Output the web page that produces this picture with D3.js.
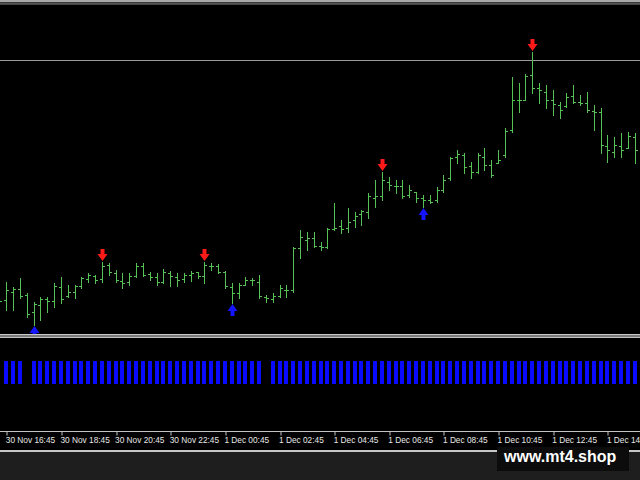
<!DOCTYPE html>
<html>
<head>
<meta charset="utf-8">
<script src="https://cdn.jsdelivr.net/npm/d3@7"></script>
<style>
html,body{margin:0;padding:0;background:#1e1e1e;}
svg{display:block;}
</style>
</head>
<body>
<svg id="chart" width="640" height="480"></svg>
<script>
// ---- data (M15 bars, price in points) ----
const barIndex = d3.range(-1, 93);
const opens  = [36,34,42,45,39,22,29,35,33,47,38,42,48,55,58,55,69,61,53,52,58,68,60,57,52,61,57,55,59,62,58,68,68,62,47,41,49,54,52,37,35,38,44,44,86,94,96,88,87,105,108,106,114,120,122,136,138,152,148,148,139,142,136,134,134,144,156,177,179,168,162,177,169,171,179,204,234,234,259,246,242,234,229,228,238,232,231,223,222,188,182,188,186,197];
const highs  = [44,52,47,56,41,32,37,37,51,57,49,49,57,61,59,72,71,64,61,61,71,71,62,61,65,63,61,61,63,62,72,71,70,63,51,51,57,56,59,39,41,49,49,87,104,102,102,92,106,131,114,126,122,124,141,154,162,157,154,154,149,142,139,139,147,159,177,184,181,172,181,186,174,184,206,257,251,260,282,251,249,244,232,241,249,239,242,229,226,199,197,201,202,201];
const lows   = [28,24,24,36,17,9,14,22,27,31,37,36,46,52,51,52,59,52,46,49,57,58,54,49,51,48,48,52,53,56,51,64,61,46,31,36,49,49,36,32,32,37,37,42,76,84,87,84,86,104,101,102,107,109,116,127,134,144,141,136,137,132,127,131,132,142,154,171,161,156,161,164,157,171,177,202,222,234,241,231,226,219,216,227,231,229,222,204,181,172,177,177,186,171];
const closes = [33,44,45,38,20,30,35,33,48,35,42,48,56,59,54,68,62,54,51,58,68,59,57,52,62,58,54,59,61,58,69,68,62,48,41,49,54,54,38,36,38,46,44,86,97,96,88,87,105,106,105,112,118,123,138,138,154,149,148,138,144,136,134,132,144,154,176,180,167,162,179,169,159,174,203,234,234,258,246,244,234,230,224,237,232,231,224,222,189,184,189,184,198,184];
// indicator signal (1 = active)
const signal = [0,1,1,1,0,1,1,1,1,1,1,1,1,1,1,1,1,1,1,1,1,1,1,1,1,1,1,1,1,1,1,1,1,1,1,1,1,1,1,0,1,1,1,1,1,1,1,1,1,1,1,1,1,1,1,1,1,1,1,1,1,1,1,1,1,1,1,1,1,1,1,1,1,1,1,1,1,1,1,1,1,1,1,1,1,1,1,1,1,1,1,1,1,1];
const sellArrows = [14, 29, 55, 77];
const buyArrows  = [4, 33, 61];
const levelValue = 274;
const tickBars   = [0, 8, 16, 24, 32, 40, 48, 56, 64, 72, 80, 88];
const tickLabels = ["30 Nov 16:45","30 Nov 18:45","30 Nov 20:45","30 Nov 22:45","1 Dec 00:45","1 Dec 02:45","1 Dec 04:45","1 Dec 06:45","1 Dec 08:45","1 Dec 10:45","1 Dec 12:45","1 Dec 14:45"];
const watermark = "www.mt4.shop";

// ---- layout ----
const W = 640, H = 480;
const svg = d3.select("#chart");
const x = d3.scaleLinear().domain([0, 88]).range([6.3, 607.4]);
const y = d3.scaleLinear().domain([0, 330]).range([334, 4]);
const y2 = d3.scaleLinear().domain([0, 1]).range([384, 361]);
const px = i => Math.round(x(i)) + 0.5;
const py = v => Math.round(y(v)) + 0.5;

svg.append("rect").attr("width", W).attr("height", H).attr("fill", "#1e1e1e");
svg.append("rect").attr("width", W).attr("height", 450).attr("fill", "#000");
// top frame
svg.append("rect").attr("x",0).attr("y",0).attr("width",W).attr("height",2).attr("fill","#a8a8a8");
svg.append("rect").attr("x",0).attr("y",2).attr("width",W).attr("height",1.5).attr("fill","#3a3a3a");
svg.append("line").attr("x1",0).attr("x2",W).attr("y1",4).attr("y2",4).attr("stroke","#8c8c8c").attr("stroke-width",1);

// level line
svg.append("line").attr("x1",0).attr("x2",W).attr("y1",py(levelValue)).attr("y2",py(levelValue))
  .attr("stroke","#9a9a9a").attr("stroke-width",1);

const bars = barIndex.map((b, k) => ({i:b, o:opens[k], h:highs[k], l:lows[k], c:closes[k], s:signal[k]}));
const green = "#56c256";
const g = svg.append("g");
g.selectAll("path.bar").data(bars).enter().append("path")
  .attr("class","bar")
  .attr("d", d => {
    const cx = px(d.i);
    return `M${cx},${Math.round(y(d.h))}V${Math.round(y(d.l))+1}` +
           `M${cx-2.5},${py(d.o)}H${cx}` +
           `M${cx},${py(d.c)}H${cx+2.5}`;
  })
  .attr("stroke", green).attr("stroke-width", 1).attr("fill","none");

// arrows
function downArrow(cx, tip){
  return `M${cx-2},${tip-12}H${cx+2}V${tip-7}H${cx+5}L${cx},${tip}L${cx-5},${tip-7}H${cx-2}Z`;
}
function upArrow(cx, tip){
  return `M${cx-2},${tip+12}H${cx+2}V${tip+7}H${cx+5}L${cx},${tip}L${cx-5},${tip+7}H${cx-2}Z`;
}
svg.selectAll("path.sell").data(sellArrows).enter().append("path")
  .attr("class","sell")
  .attr("d", i => { const d = bars.find(b => b.i === i); return downArrow(px(i), y(d.h) - 1); })
  .attr("fill","#ff1a1a");
svg.selectAll("path.buy").data(buyArrows).enter().append("path")
  .attr("class","buy")
  .attr("d", i => { const d = bars.find(b => b.i === i); return upArrow(px(i), y(d.l) + 1); })
  .attr("fill","#1414ff");

// separator
svg.append("rect").attr("x",0).attr("y",334).attr("width",W).attr("height",4).attr("fill","#7a7a7a");
svg.append("line").attr("x1",0).attr("x2",W).attr("y1",334.5).attr("y2",334.5).attr("stroke","#c8c8c8");
svg.append("line").attr("x1",0).attr("x2",W).attr("y1",337.5).attr("y2",337.5).attr("stroke","#c0c0c0");

// histogram
svg.selectAll("rect.hist").data(bars.filter(d => d.s > 0)).enter().append("rect")
  .attr("class","hist")
  .attr("x", d => Math.round(x(d.i)) - 2)
  .attr("y", d => y2(d.s))
  .attr("width", 4)
  .attr("height", d => y2(0) - y2(d.s))
  .attr("fill", "#0a0aff");

// time axis
const axis = d3.axisBottom(x).tickValues(tickBars).tickFormat((d, k) => tickLabels[k]).tickSize(4).tickSizeOuter(0);
const ag = svg.append("g").attr("transform","translate(0,431.5)").call(axis);
ag.select(".domain").remove();
svg.append("line").attr("x1",0).attr("x2",W).attr("y1",431.5).attr("y2",431.5).attr("stroke","#c4c4c4");
ag.selectAll(".tick line").attr("stroke","#c4c4c4").attr("transform", d => `translate(${px(d) - x(d)},0)`);
ag.selectAll(".tick text")
  .attr("fill","#e8e8e8").attr("text-anchor","start").attr("x",-1).attr("y",6).attr("dy","0.71em")
  .style("font-family","'Liberation Sans', Arial, sans-serif").style("font-size","8.3px");

// bottom strip
svg.append("rect").attr("x",0).attr("y",450).attr("width",W).attr("height",2).attr("fill","#c8c8c8");

// watermark
svg.append("rect").attr("x",497).attr("y",447).attr("width",132).attr("height",24).attr("fill","#0c0c0c");
svg.append("text").attr("x",504).attr("y",462).text(watermark)
  .attr("fill","#ffffff").style("font-family","'Liberation Sans', Arial, sans-serif")
  .style("font-weight","bold").style("font-size","16px");
</script>
</body>
</html>
